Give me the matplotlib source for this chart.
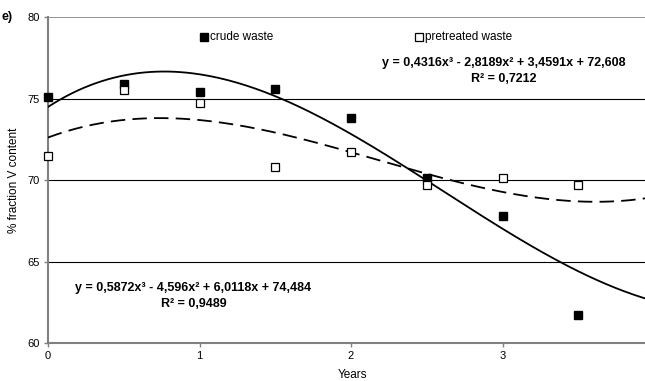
import numpy as np
import matplotlib.pyplot as plt

plt.rcParams['font.family'] = ['Liberation Sans', 'DejaVu Sans']

years = [0, 0.5, 1, 1.5, 2, 2.5, 3, 3.5]
crude = [75.1, 75.9, 75.4, 75.6, 73.8, 70.1, 67.8, 61.7]
pretreated = [71.5, 75.5, 74.7, 70.8, 71.7, 69.7, 70.1, 69.7]

# trendline coefficients as printed on the chart (cubic, highest power first)
crude_fit = [0.5872, -4.596, 6.0118, 74.484]
pre_fit = [0.4316, -2.8189, 3.4591, 72.608]

fig = plt.figure(figsize=(6.45, 3.81), dpi=100)
ax = fig.add_axes([0.0744, 0.0997, 0.9256, 0.8556])

xs = np.linspace(0, 3.94, 200)
ax.plot(xs, np.polyval(crude_fit, xs), color='black', lw=1.3, zorder=3)
ax.plot(xs, np.polyval(pre_fit, xs), color='black', lw=1.3, dashes=(8, 4), zorder=3)

ax.plot(years, crude, 's', color='black', ms=5.5, zorder=4, clip_on=False)
ax.plot(years, pretreated, 's', mfc='white', mec='black', mew=0.9, ms=5.5, zorder=4, clip_on=False)

ax.set_xlim(0, 3.94)
ax.set_ylim(60, 80)
ax.set_xticks([0, 1, 2, 3])
ax.set_yticks([60, 65, 70, 75, 80])
for y in [65, 70, 75]:
    ax.axhline(y, color='black', lw=0.8, zorder=1)
ax.axhline(80, color='#808080', lw=1.2, zorder=1)

for s in ['top', 'right']:
    ax.spines[s].set_visible(False)
for s in ['left', 'bottom']:
    ax.spines[s].set_color('#808080')
    ax.spines[s].set_linewidth(1.5)
ax.tick_params(axis='both', labelsize=8, color='#808080', length=3, width=1, pad=3)

ax.set_xlabel('Years', fontsize=8.5)
ax.xaxis.set_label_coords(0.51, -0.08)
ax.set_ylabel('% fraction V content', fontsize=8.5)
ax.yaxis.set_label_coords(-0.047, 0.5)

fig.text(0.003, 0.955, 'e)', fontsize=9, fontweight='bold', va='center')

# legend entries as in the original
ax.plot([1.03], [78.75], 's', color='black', ms=5.5)
ax.text(1.07, 78.75, 'crude waste', fontsize=8.5, va='center', ha='left')
ax.plot([2.45], [78.75], 's', mfc='white', mec='black', mew=0.9, ms=5.5)
ax.text(2.49, 78.75, 'pretreated waste', fontsize=8.5, va='center', ha='left')

ax.text(3.01, 76.7, 'y = 0,4316x\u00b3 - 2,8189x\u00b2 + 3,4591x + 72,608\nR\u00b2 = 0,7212',
        fontsize=9, fontweight='bold', ha='center', va='center', linespacing=1.4)
ax.text(0.96, 62.9, 'y = 0,5872x\u00b3 - 4,596x\u00b2 + 6,0118x + 74,484\nR\u00b2 = 0,9489',
        fontsize=9, fontweight='bold', ha='center', va='center', linespacing=1.4)

fig.savefig('out.png', dpi=100)
